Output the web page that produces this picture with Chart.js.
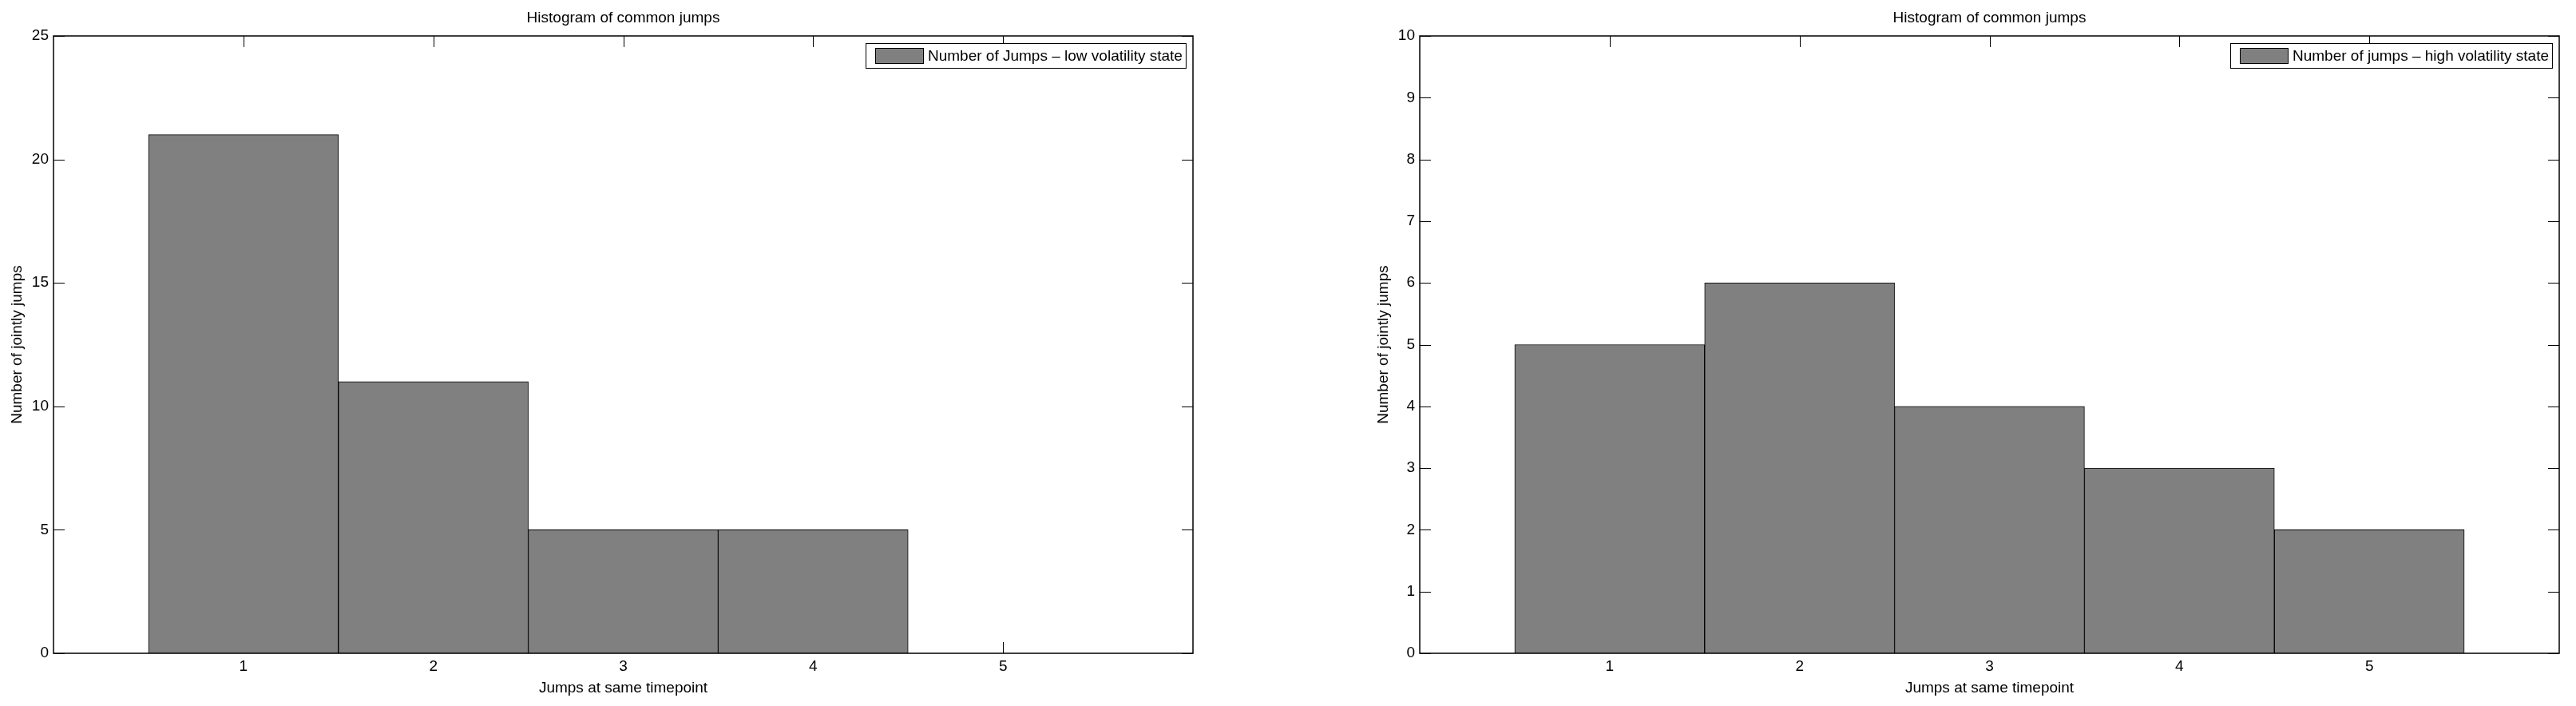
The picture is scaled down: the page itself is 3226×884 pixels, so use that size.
<!DOCTYPE html>
<html>
<head>
<meta charset="utf-8">
<script src="https://cdn.jsdelivr.net/npm/chart.js@4/dist/chart.umd.min.js"></script>
<style>
  html, body { margin: 0; padding: 0; background: #fff; }
  body { width: 3226px; height: 884px; position: relative; overflow: hidden; }
  canvas { position: absolute; top: 0; }
  #lowChart { left: 0; }
  #highChart { left: 1711px; }
</style>
</head>
<body>
<canvas id="lowChart" width="1515" height="884"></canvas>
<canvas id="highChart" width="1515" height="884"></canvas>
<script>
// bins (jumps at the same timepoint) and counts
var bins = [1, 2, 3, 4, 5];
var lowCounts = [21, 11, 5, 5, 0];
var highCounts = [5, 6, 4, 3, 2];

var xTicks = [1, 2, 3, 4, 5];
var lowYTicks = [0, 5, 10, 15, 20, 25];
var highYTicks = [0, 1, 2, 3, 4, 5, 6, 7, 8, 9, 10];

var chartTitle = 'Histogram of common jumps';
var xTitle = 'Jumps at same timepoint';
var yTitle = 'Number of jointly jumps';
var lowLabel = 'Number of Jumps \u2013 low volatility state';
var highLabel = 'Number of jumps \u2013 high volatility state';

var FONT = "'Liberation Sans', Arial, Helvetica, sans-serif";
var FSIZE = 19;
var BAR_GREY = '#808080';
var TICK_LEN = 14;

Chart.defaults.font.family = FONT;
Chart.defaults.font.size = FSIZE;
Chart.defaults.color = '#000';

// frame, inward ticks on all four sides, legend box inside the axes
var matlabAxes = {
	id: 'matlabAxes',
	beforeDatasetsDraw: function(chart) {
		var ctx = chart.ctx, a = chart.chartArea;
		var xs = chart.scales.x, ys = chart.scales.y;
		ctx.save();
		ctx.strokeStyle = '#000';
		ctx.lineWidth = 1;
		ctx.beginPath();
		xs.ticks.forEach(function(t) {
			var px = Math.round(xs.getPixelForValue(t.value)) + 0.5;
			ctx.moveTo(px, a.bottom); ctx.lineTo(px, a.bottom - TICK_LEN);
			ctx.moveTo(px, a.top); ctx.lineTo(px, a.top + TICK_LEN);
		});
		ys.ticks.forEach(function(t) {
			var py = Math.round(ys.getPixelForValue(t.value)) + 0.5;
			ctx.moveTo(a.left, py); ctx.lineTo(a.left + TICK_LEN, py);
			ctx.moveTo(a.right, py); ctx.lineTo(a.right - TICK_LEN, py);
		});
		ctx.stroke();
		ctx.restore();
	},
	afterDatasetsDraw: function(chart) {
		var ctx = chart.ctx, a = chart.chartArea;
		ctx.save();
		ctx.strokeStyle = '#000';
		ctx.lineWidth = 1.5;
		ctx.strokeRect(Math.round(a.left), Math.round(a.top), Math.round(a.right - a.left), Math.round(a.bottom - a.top));

		// legend
		var label = chart.data.datasets[0].label;
		ctx.font = FSIZE + 'px ' + FONT;
		var tw = ctx.measureText(label).width;
		var h = 31, bw = 12 + 60 + 6 + tw + 4;
		var bx = Math.round(a.right - 9 - bw), by = Math.round(a.top + 9);
		ctx.fillStyle = '#fff';
		ctx.fillRect(bx, by, bw, h);
		ctx.lineWidth = 1;
		ctx.strokeRect(bx + 0.5, by + 0.5, bw, h);
		ctx.fillStyle = BAR_GREY;
		ctx.fillRect(bx + 12, by + 6, 60, 19);
		ctx.strokeRect(bx + 12.5, by + 6.5, 60, 19);
		ctx.fillStyle = '#000';
		ctx.textBaseline = 'middle';
		ctx.textAlign = 'left';
		ctx.fillText(label, bx + 12 + 60 + 6, by + h / 2 + 1);
		ctx.restore();
	}
};

function makeHist(id, counts, label, yMax, yTicks) {
	var ctx = document.getElementById(id);
	return new Chart(ctx, {
		type: 'bar',
		data: {
			datasets: [{
				label: label,
				data: bins.map(function(b, i) { return { x: b, y: counts[i] }; }),
				backgroundColor: BAR_GREY,
				borderColor: '#000',
				borderWidth: 1,
				barPercentage: 1,
				categoryPercentage: 1
			}]
		},
		options: {
			responsive: false,
			animation: false,
			devicePixelRatio: 1,
			layout: { padding: { left: 0, right: 21, top: 0, bottom: 0 } },
			plugins: {
				legend: { display: false },
				tooltip: { enabled: false },
				title: {
					display: true,
					text: chartTitle,
					fullSize: false,
					color: '#000',
					font: { size: FSIZE, weight: 'normal', lineHeight: 1.2 },
					padding: { top: 11.6, bottom: 10.6 }
				}
			},
			scales: {
				x: {
					type: 'linear',
					min: 0,
					max: 6,
					offset: false,
					grid: { display: false, drawTicks: false, offset: false },
					border: { display: false },
					afterBuildTicks: function(scale) {
						scale.ticks = xTicks.map(function(v) { return { value: v }; });
					},
					afterFit: function(scale) { scale.height = 66; },
					ticks: { padding: 5.6, maxRotation: 0, autoSkip: false },
					title: {
						display: true,
						text: xTitle,
						padding: { top: 0, bottom: 10.6 }
					}
				},
				y: {
					min: 0,
					max: yMax,
					grid: { display: false, drawTicks: false },
					border: { display: false },
					afterBuildTicks: function(scale) {
						scale.ticks = yTicks.map(function(v) { return { value: v }; });
					},
					afterFit: function(scale) { scale.width = 67; },
					ticks: { padding: 6, autoSkip: false },
					title: {
						display: true,
						text: yTitle,
						padding: { top: 10.6, bottom: 0 }
					}
				}
			}
		},
		plugins: [matlabAxes]
	});
}

makeHist('lowChart', lowCounts, lowLabel, 25, lowYTicks);
makeHist('highChart', highCounts, highLabel, 10, highYTicks);
</script>
</body>
</html>
